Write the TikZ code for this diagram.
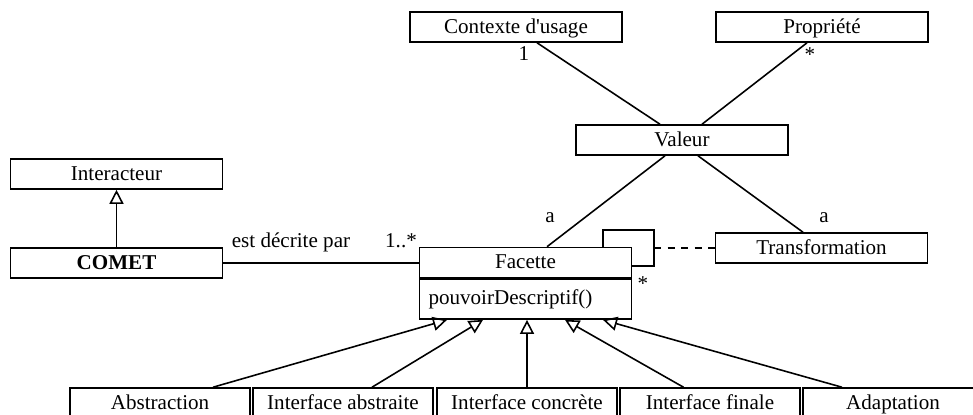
\documentclass[tikz,border=0pt]{standalone}
\usepackage{fontspec}
\setmainfont{Liberation Serif}
\usetikzlibrary{arrows.meta, positioning, calc}

\begin{document}
\begin{tikzpicture}[x=0.02cm, y=-0.02cm,
    every node/.style={font=\fontsize{12}{14}\selectfont},
    classe/.style={draw, line width=0.9pt, minimum width=4.24cm,
        minimum height=0.6cm, inner sep=0pt, text height=1.8ex, text depth=0.25ex},
    feuille/.style={classe, minimum width=3.6cm},
    lien/.style={line width=0.9pt},
    herite/.style={lien, -{Triangle[open, length=8pt, width=8pt]}},
    multi/.style={anchor=base}]

    \useasboundingbox (0,0) rectangle (973,414);

    % ============================================================
    % CONTEXTE, PROPRIETE, VALEUR
    % ============================================================
    \node[classe] (ctx) at (516,27) {Contexte d\textquotesingle usage};
    \node[classe] (prop) at (822,27) {Propriété};
    \node[classe] (valeur) at (682,140) {Valeur};

    \draw[lien] ($(ctx.south)+(21,0)$) -- ($(valeur.north)+(-22,0)$);
    \draw[lien] ($(prop.south)+(-15,0)$) -- ($(valeur.north)+(20,0)$);
    \node[multi] (m1) at (524,60) {1};
    \node[multi] (m2) at (810,61) {*};

    % ============================================================
    % INTERACTEUR ET COMET
    % ============================================================
    \node[classe] (interacteur) at (116.5,174) {Interacteur};
    \node[classe] (comet) at (116.5,263) {\textbf{COMET}};
    \draw[herite] (comet) -- (interacteur);

    % ============================================================
    % FACETTE
    % ============================================================
    \node[classe] (facette) at (525.5,262.5) {Facette};
    \node[draw, line width=0.9pt, anchor=north, minimum height=0.8cm,
        text width=3.88cm, inner xsep=0.18cm, inner ysep=0pt, align=left]
        (methodes) at (facette.south) {pouvoirDescriptif()};

    \draw[lien] (comet.east) -- (comet.east -| facette.west);
    \node[multi] (role) at (291,247) {est décrite par};
    \node[multi] (m4) at (401,247) {1..*};

    % ============================================================
    % TRANSFORMATION (ASSOCIATION REFLEXIVE)
    % ============================================================
    \node[classe] (transfo) at (821.5,248) {Transformation};
    \coordinate (boucle) at (654,248);
    \draw[lien] ($(facette.north east)+(-29,0)$) |- ($(boucle)+(0,-18)$)
        -- ($(boucle)+(0,18)$) -- ++(-22,0);
    \draw[lien, dash pattern=on 4pt off 3.7pt] (boucle) -- (transfo.west |- boucle);
    \node[multi] (m3) at (643,290) {*};

    \draw[lien] ($(valeur.south)+(-17,0)$) -- ($(facette.north)+(21.5,0)$);
    \draw[lien] ($(valeur.south)+(16,0)$) -- ($(transfo.north)+(-18.5,0)$);
    \node[multi] (ma1) at (550,222) {a};
    \node[multi] (ma2) at (824,222) {a};

    % ============================================================
    % SOUS-CLASSES
    % ============================================================
    \node[feuille] (abstr) at (160,403) {Abstraction};
    \node[feuille] (iabs) at (343,403) {Interface abstraite};
    \node[feuille] (iconc) at (527,403) {Interface concrète};
    \node[feuille] (ifin) at (710,403) {Interface finale};
    \node[feuille] (adapt) at (893,403) {Adaptation};

    \draw[herite] ($(abstr.north)+(53,0)$) -- ($(methodes.south)+(-78.5,0)$);
    \draw[herite] ($(iabs.north)+(29,0)$) -- ($(methodes.south)+(-42.5,0)$);
    \draw[herite] (iconc.north) -- (iconc.north |- methodes.south);
    \draw[herite] ($(ifin.north)+(-26.5,0)$) -- ($(methodes.south)+(39.5,0)$);
    \draw[herite] ($(adapt.north)+(-51,0)$) -- ($(methodes.south)+(77.5,0)$);

\end{tikzpicture}
\end{document}
